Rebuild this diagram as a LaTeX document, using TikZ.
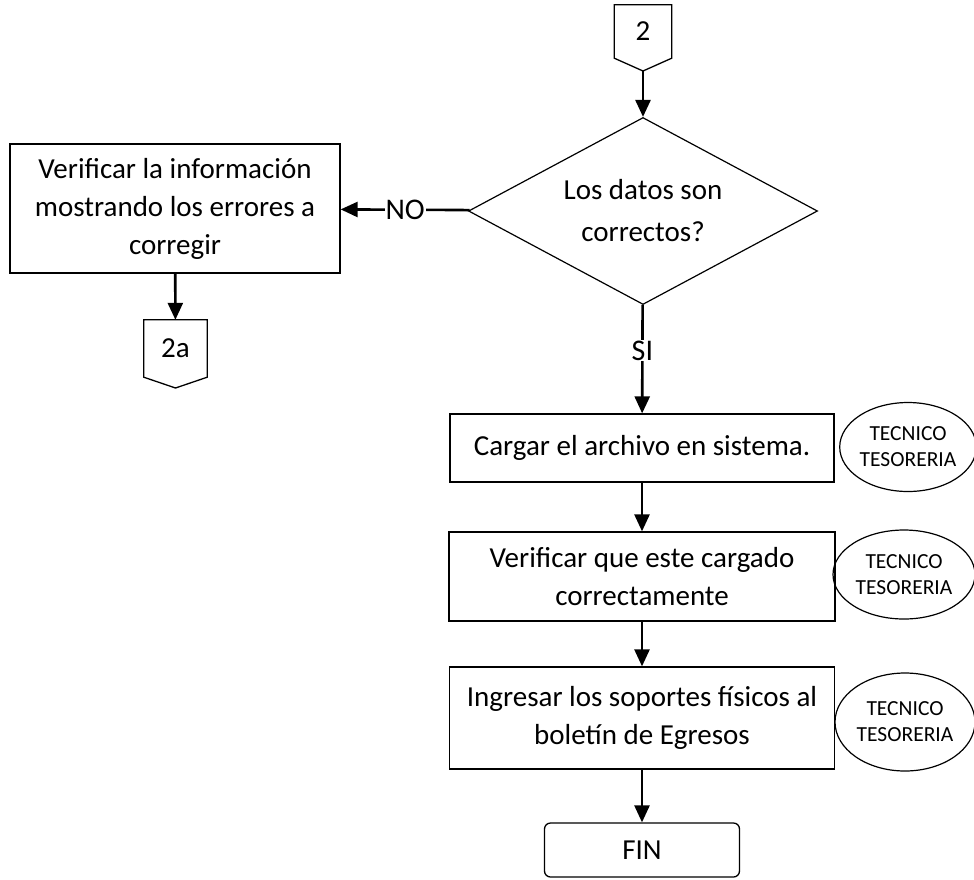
\documentclass[tikz,border=0pt]{standalone}
\usepackage{fontspec}
\setmainfont{Carlito}
\usepackage{tikz}
\usetikzlibrary{arrows.meta,positioning,shapes.geometric}

\begin{document}
\begin{tikzpicture}[x=1pt,y=-1pt,>={Triangle[length=17pt,width=15pt]},
    proceso/.style={draw,line width=1.3pt,align=center,inner sep=0pt,font=\fontsize{29}{38}\selectfont},
    decision/.style={diamond,draw,line width=1.2pt,aspect=1.87,inner sep=0pt,align=center,font=\fontsize{29}{42}\selectfont},
    conector/.style={align=center,inner sep=0pt,font=\fontsize{29}{30}\selectfont},
    responsable/.style={ellipse,draw,line width=1.2pt,inner sep=0pt,align=center,font=\fontsize{21.5}{26}\selectfont},
    fin/.style={draw,line width=1.3pt,rounded corners=6pt,inner sep=0pt,font=\fontsize{29}{30}\selectfont}]
    \useasboundingbox (0,0) rectangle (974,879);
			  \node[conector,minimum width=57,minimum height=53]        (c2)       at (643,31.5)   {2};
			  \coordinate                                               (c2p)      at (643,71);
			  \node[decision,minimum width=349,minimum height=187]      (datos)    at (643,211)    {Los datos son\\correctos?};
			  \node[proceso,minimum width=330,minimum height=129]       (verif)    at (175,208.5)  {Verificar la información\\mostrando los errores a\\corregir};
			  \node[conector,minimum width=63,minimum height=57]        (c2a)      at (175.5,348.5) {2a};
			  \coordinate                                               (c2ap)     at (175.5,388);
			  \node[proceso,minimum width=384,minimum height=68]        (cargar)   at (642,448)    {Cargar el archivo en sistema.};
			  \node[proceso,minimum width=386,minimum height=89]        (cargado)  at (642,576.5)  {Verificar que este cargado\\correctamente};
			  \node[proceso,minimum width=385,minimum height=102]       (ingresar) at (642,718)    {Ingresar los soportes físicos al\\boletín de Egresos};
			  \node[fin,minimum width=195,minimum height=54]            (fin)      at (642,850)    {FIN};
			  \node[responsable,minimum width=136,minimum height=89]    (tec1)     at (908,447)    {TECNICO\\TESORERIA};
			  \node[responsable,minimum width=142,minimum height=89]    (tec2)     at (904,574.5)  {TECNICO\\TESORERIA};
			  \node[responsable,minimum width=140,minimum height=98]    (tec3)     at (905,722)    {TECNICO\\TESORERIA};

			% conectores de pagina
			\draw[line width=1.3pt] (c2.north west) -- (c2.north east) -- (c2.south east) -- (c2p) -- (c2.south west) -- cycle;
			\draw[line width=1.3pt] (c2a.north west) -- (c2a.north east) -- (c2a.south east) -- (c2ap) -- (c2a.south west) -- cycle;

			\tikzset{flecha/.style={->,line width=2.6pt},etiqueta/.style={fill=white,inner sep=1pt,font=\fontsize{30}{32}\selectfont}}
			\path (c2p)        edge [flecha]    node   {} (datos)
				  (datos)      edge [flecha]    node [etiqueta]  {NO} (verif)
				  (verif)      edge [flecha]    node   {} (c2a)
				  (datos)      edge [flecha]    node [etiqueta,pos=0.42]  {SI} (cargar)
				  (cargar)     edge [flecha]    node   {} (cargado)
				  (cargado)    edge [flecha]    node   {} (ingresar)
				  (ingresar)   edge [flecha]    node   {} (fin);
		\end{tikzpicture}
\end{document}
